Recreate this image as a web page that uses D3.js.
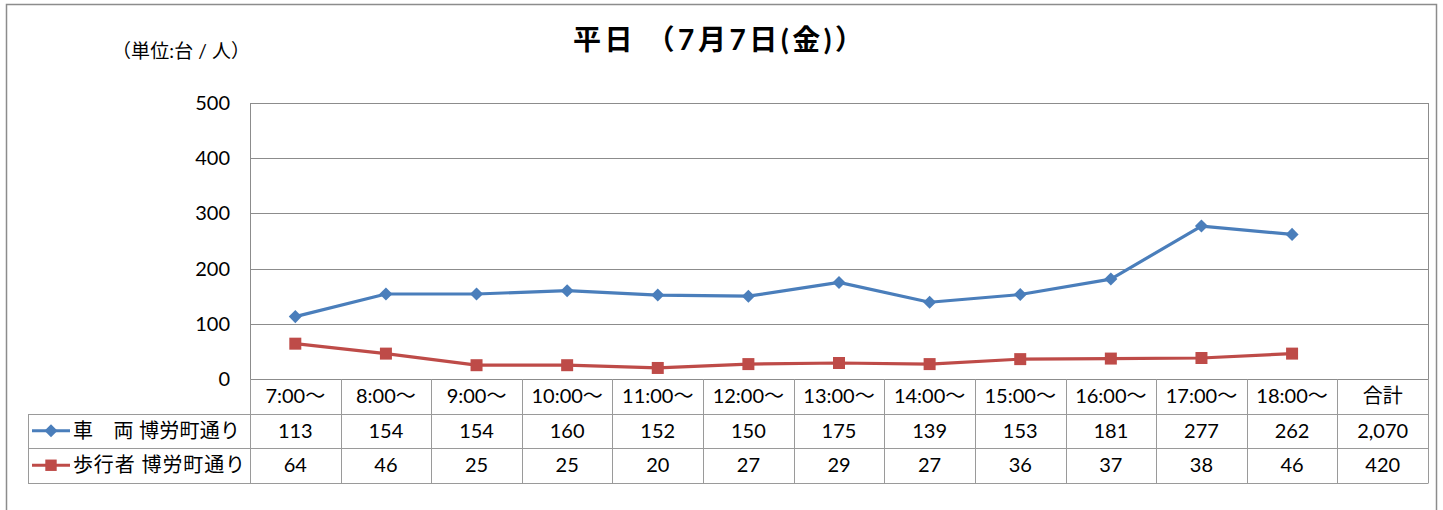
<!DOCTYPE html>
<html>
<head>
<meta charset="utf-8">
<script src="https://cdn.jsdelivr.net/npm/d3@7"></script>
<style>
  html, body { margin: 0; padding: 0; background: #fff; }
  svg { display: block; }
  text { font-family: Lato, "Noto Sans CJK JP", sans-serif; fill: #000; }
</style>
</head>
<body>
<script>
// Hourly counts on Hakurō-chō street, weekday survey
const categories = ["7:00〜", "8:00〜", "9:00〜", "10:00〜", "11:00〜", "12:00〜",
                    "13:00〜", "14:00〜", "15:00〜", "16:00〜", "17:00〜", "18:00〜"];
const totalLabel = "合計";
const vehicleLabel = "車　両 博労町通り";
const pedestrianLabel = "歩行者 博労町通り";
const vehicles = [113, 154, 154, 160, 152, 150, 175, 139, 153, 181, 277, 262];
const pedestrians = [64, 46, 25, 25, 20, 27, 29, 27, 36, 37, 38, 46];
const yTicks = [0, 100, 200, 300, 400, 500];
const titleText = "平日 （7月7日(金)）";
const unitText = "（単位:台 / 人）";

const W = 1443, H = 510;
const plot = { left: 250, right: 1428, top: 103, bottom: 379 };
const rowH = 34.5;
const legendLeft = 28;
const numSize = 20;

const svg = d3.select("body").append("svg").attr("width", W).attr("height", H);

// chart frame
svg.append("rect").attr("x", 6.5).attr("y", 4.5).attr("width", 1430).attr("height", 520)
  .attr("fill", "#fff").attr("stroke", "#8c8c8c").attr("stroke-width", 1.5);

const columns = categories.concat([totalLabel]);
const x = d3.scaleBand().domain(columns).range([plot.left, plot.right]).padding(0);
const y = d3.scaleLinear().domain([0, 500]).range([plot.bottom, plot.top]);

// horizontal gridlines
svg.append("g").selectAll("line").data(yTicks).join("line")
  .attr("x1", plot.left).attr("x2", plot.right)
  .attr("y1", d => Math.round(y(d)) + 0.5).attr("y2", d => Math.round(y(d)) + 0.5)
  .attr("stroke", "#8c8c8c").attr("stroke-width", 1);

// plot area frame
svg.append("rect").attr("x", plot.left + 0.5).attr("y", Math.round(y(500)) + 0.5)
  .attr("width", plot.right - plot.left).attr("height", Math.round(y(0)) - Math.round(y(500)))
  .attr("fill", "none").attr("stroke", "#8c8c8c");

// y axis tick labels
svg.append("g").selectAll("text").data(yTicks).join("text")
  .attr("x", 230).attr("y", d => y(d)).attr("dy", "0.35em")
  .attr("text-anchor", "end").attr("font-size", numSize).text(d => d);

// data table
const tableTop = Math.round(y(0));
const tbl = svg.append("g");
const gridColor = "#9a9a9a";
const rowsY = [tableTop, tableTop + rowH, tableTop + 2 * rowH, tableTop + 3 * rowH];

// horizontal rules
[1, 2, 3].forEach(r => {
  tbl.append("line").attr("x1", legendLeft).attr("x2", plot.right)
    .attr("y1", Math.round(rowsY[r]) + 0.5).attr("y2", Math.round(rowsY[r]) + 0.5)
    .attr("stroke", gridColor);
});

// vertical rules
const bounds = columns.map(c => x(c)).concat([plot.right]);
tbl.selectAll("line.v").data(bounds).join("line").attr("class", "v")
  .attr("x1", d => Math.round(d) + 0.5).attr("x2", d => Math.round(d) + 0.5)
  .attr("y1", rowsY[0]).attr("y2", Math.round(rowsY[3]) + 0.5).attr("stroke", gridColor);
tbl.append("line").attr("x1", legendLeft + 0.5).attr("x2", legendLeft + 0.5)
  .attr("y1", Math.round(rowsY[1])).attr("y2", Math.round(rowsY[3]) + 0.5).attr("stroke", gridColor);

// header labels
tbl.selectAll("text.h").data(columns).join("text").attr("class", "h")
  .attr("x", d => x(d) + x.bandwidth() / 2).attr("y", (rowsY[0] + rowsY[1]) / 2)
  .attr("dy", "0.35em").attr("text-anchor", "middle").attr("font-size", numSize).text(d => d);

const fmt = d3.format(",");
const series = [
  { name: vehicleLabel, values: vehicles, color: "#4a7ebb", diamond: true, labelWidth: 167 },
  { name: pedestrianLabel, values: pedestrians, color: "#be4b48", diamond: false, labelWidth: 172 }
];

series.forEach((s, i) => {
  const cy = (rowsY[i + 1] + rowsY[i + 2]) / 2;
  const cells = s.values.concat([d3.sum(s.values)]);
  tbl.selectAll("text.r" + i).data(cells).join("text").attr("class", "r" + i)
    .attr("x", (d, j) => x(columns[j]) + x.bandwidth() / 2).attr("y", cy)
    .attr("dy", "0.35em").attr("text-anchor", "middle").attr("font-size", numSize)
    .text(d => fmt(d));

  // legend key
  tbl.append("line").attr("x1", 32).attr("x2", 70).attr("y1", cy).attr("y2", cy)
    .attr("stroke", s.color).attr("stroke-width", 3);
  tbl.append("path")
    .attr("d", d3.symbol().type(d3.symbolSquare).size(s.diamond ? 85 : 130)())
    .attr("transform", `translate(51,${cy})` + (s.diamond ? " rotate(45)" : ""))
    .attr("fill", s.color);
  tbl.append("text").attr("x", 73).attr("y", cy).attr("dy", "0.36em")
    .attr("font-size", 20).attr("font-family", "'Noto Sans CJK JP', sans-serif")
    .attr("textLength", s.labelWidth).attr("lengthAdjust", "spacing")
    .text(s.name);
});

// series lines and markers
const line = d3.line()
  .x((d, i) => x(categories[i]) + x.bandwidth() / 2)
  .y(d => y(d));

series.forEach(s => {
  svg.append("path").datum(s.values).attr("d", line)
    .attr("fill", "none").attr("stroke", s.color).attr("stroke-width", 3.2)
    .attr("stroke-linejoin", "round");
  svg.append("g").selectAll("path").data(s.values).join("path")
    .attr("d", d3.symbol().type(d3.symbolSquare).size(s.diamond ? 85 : 144)())
    .attr("transform", (d, j) =>
      `translate(${x(categories[j]) + x.bandwidth() / 2},${y(d)})` + (s.diamond ? " rotate(45)" : ""))
    .attr("fill", s.color);
});

// titles
svg.append("text").attr("x", 573).attr("y", 40).attr("dy", "0.36em")
  .attr("font-size", 28).attr("font-weight", "bold")
  .attr("font-family", "'Noto Sans CJK JP', sans-serif")
  .attr("textLength", 290).attr("lengthAdjust", "spacing").text(titleText);
svg.append("text").attr("x", 112).attr("y", 51.5).attr("dy", "0.36em")
  .attr("font-size", 19).attr("font-family", "'Noto Sans CJK JP', sans-serif")
  .attr("textLength", 138).attr("lengthAdjust", "spacing").text(unitText);
</script>
</body>
</html>
